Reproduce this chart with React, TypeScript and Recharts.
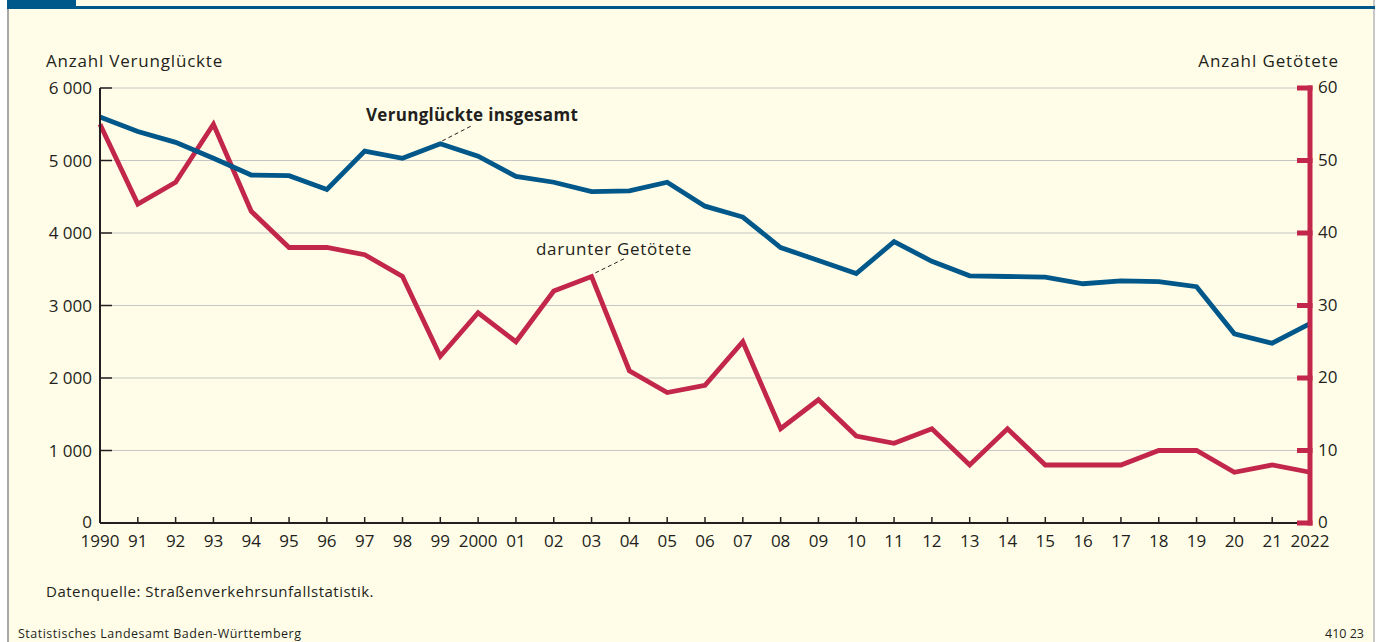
import { LineChart, Line, XAxis, YAxis, CartesianGrid, ReferenceLine } from 'recharts';

// Verunglückte und Getötete im Straßenverkehr, Baden-Württemberg 1990–2022

const years = [
  1990, 1991, 1992, 1993, 1994, 1995, 1996, 1997, 1998, 1999, 2000, 2001, 2002, 2003, 2004, 2005, 2006,
  2007, 2008, 2009, 2010, 2011, 2012, 2013, 2014, 2015, 2016, 2017, 2018, 2019, 2020, 2021, 2022,
];
const yearLabels = [
  '1990', '91', '92', '93', '94', '95', '96', '97', '98', '99', '2000', '01', '02', '03', '04', '05', '06',
  '07', '08', '09', '10', '11', '12', '13', '14', '15', '16', '17', '18', '19', '20', '21', '2022',
];
const verunglueckte = [
  5600, 5400, 5250, 5030, 4800, 4790, 4600, 5130, 5030, 5230, 5060, 4780, 4700, 4570, 4580, 4700, 4370,
  4220, 3800, 3620, 3440, 3880, 3610, 3410, 3400, 3390, 3300, 3340, 3330, 3260, 2610, 2480, 2750,
];
const getoetete = [
  55, 44, 47, 55, 43, 38, 38, 37, 34, 23, 29, 25, 32, 34, 21, 18, 19,
  25, 13, 17, 12, 11, 13, 8, 13, 8, 8, 8, 10, 10, 7, 8, 7,
];
const leftTicks = [0, 1000, 2000, 3000, 4000, 5000, 6000];
const rightTicks = [0, 10, 20, 30, 40, 50, 60];

const BLUE = '#00578a';
const RED = '#c2264b';
const INK = '#231f20';
const BG = '#fffde7';
const FONT = "'Open Sans', 'Liberation Sans', sans-serif";

const data = years.map((year, i) => ({
  year,
  verunglueckte: verunglueckte[i],
  getoetete: getoetete[i],
}));

const fmtThousands = (v: number) => String(v).replace(/\B(?=(\d{3})+(?!\d))/g, ' ');

function LeftTick({ x, y, payload }: any) {
  return (
    <g>
      <line x1={x + 8} x2={x + 20} y1={y} y2={y} stroke={INK} strokeWidth={1.5} />
      <text x={x} y={y} dy={payload.value === 0 ? '0.3em' : '0.36em'} textAnchor="end" fill={INK} fontSize={17} fontFamily={FONT}>
        {fmtThousands(payload.value)}
      </text>
    </g>
  );
}

function RightTick({ x, y, payload }: any) {
  return (
    <g>
      <line x1={x - 21} x2={x - 5.5} y1={y} y2={y} stroke={RED} strokeWidth={5} />
      <text x={x} y={y} dy="0.3em" textAnchor="start" fill={INK} fontSize={17} fontFamily={FONT}>
        {payload.value}
      </text>
    </g>
  );
}

function BottomTick({ x, y, payload }: any) {
  const idx = years.indexOf(payload.value);
  return (
    <g>
      {idx > 0 && idx < years.length - 1 && (
        <line x1={x} x2={x} y1={y - 12} y2={y - 18} stroke={INK} strokeWidth={1.5} />
      )}
      <text x={x} y={y} dy="0.71em" textAnchor="middle" fill={INK} fontSize={17} fontFamily={FONT}>
        {yearLabels[idx]}
      </text>
    </g>
  );
}

export default function App() {
  return (
    <div style={{ position: 'absolute', left: 0, top: 0, width: 1380, height: 642, background: '#fff', overflow: 'hidden' }}>
      {/* frame */}
      <div style={{ position: 'absolute', left: 7, top: 0, width: 1368, height: 642, background: BG, borderLeft: '2px solid #a8a8a8', borderRight: '2px solid #c8c8c8', boxSizing: 'border-box' }} />
      <div style={{ position: 'absolute', left: 7, top: 6, width: 1368, height: 2.5, background: BLUE }} />
      <div style={{ position: 'absolute', left: 7, top: 0, width: 69, height: 8, background: BLUE }} />

      <div style={{ position: 'absolute', left: 0, top: 0 }}>
        <LineChart width={1380} height={642} data={data} margin={{ top: 88, right: 20, bottom: 89, left: 0 }}>
          <CartesianGrid yAxisId="left" horizontal vertical={false} stroke="#c6c6c6" strokeWidth={1} />
          <XAxis
            dataKey="year"
            type="number"
            domain={[1990, 2022]}
            ticks={years}
            interval={0}
            height={30}
            tickSize={0}
            tickMargin={12}
            tickLine={false}
            axisLine={{ stroke: INK, strokeWidth: 2 }}
            tick={<BottomTick />}
          />
          <YAxis
            yAxisId="left"
            orientation="left"
            domain={[0, 6000]}
            ticks={leftTicks}
            width={100}
            tickSize={0}
            tickMargin={8}
            tickLine={false}
            axisLine={{ stroke: INK, strokeWidth: 2 }}
            tick={<LeftTick />}
          />
          <YAxis
            yAxisId="right"
            orientation="right"
            domain={[0, 60]}
            ticks={rightTicks}
            width={50}
            tickSize={0}
            tickMargin={8}
            tickLine={false}
            axisLine={{ stroke: RED, strokeWidth: 5, strokeLinecap: 'square' }}
            tick={<RightTick />}
          />
          <ReferenceLine
            yAxisId="left"
            segment={[{ x: 1999.05, y: 5270 }, { x: 1999.87, y: 5490 }]}
            stroke={INK}
            strokeWidth={1}
            strokeDasharray="4 3"
            ifOverflow="visible"
          />
          <ReferenceLine
            yAxisId="left"
            segment={[{ x: 2003.1, y: 3450 }, { x: 2003.9, y: 3655 }]}
            stroke={INK}
            strokeWidth={1}
            strokeDasharray="4 3"
            ifOverflow="visible"
          />
          <Line
            yAxisId="right"
            type="linear"
            dataKey="getoetete"
            stroke={RED}
            strokeWidth={4.8}
            dot={false}
            activeDot={false}
            isAnimationActive={false}
          />
          <Line
            yAxisId="left"
            type="linear"
            dataKey="verunglueckte"
            stroke={BLUE}
            strokeWidth={4.8}
            dot={false}
            activeDot={false}
            isAnimationActive={false}
          />
        </LineChart>
      </div>

      {/* texts */}
      <svg width={1380} height={642} style={{ position: 'absolute', left: 0, top: 0, pointerEvents: 'none' }} fontFamily={FONT} fill={INK}>
        <text x={46} y={67} fontSize={17} letterSpacing={0.8}>Anzahl Verunglückte</text>
        <text x={1339} y={67} fontSize={17} letterSpacing={0.9} textAnchor="end">Anzahl Getötete</text>
        <text x={366} y={121} fontSize={17} fontWeight="bold" letterSpacing={0.3}>Verunglückte insgesamt</text>
        <text x={536} y={255} fontSize={17} letterSpacing={0.7}>darunter Getötete</text>
        <text x={46} y={597} fontSize={15} letterSpacing={0.5}>Datenquelle: Straßenverkehrsunfallstatistik.</text>
        <text x={18} y={638} fontSize={12.5} letterSpacing={0.5}>Statistisches Landesamt Baden-Württemberg</text>
        <text x={1364} y={638} fontSize={12.5} textAnchor="end">410 23</text>
      </svg>
    </div>
  );
}
